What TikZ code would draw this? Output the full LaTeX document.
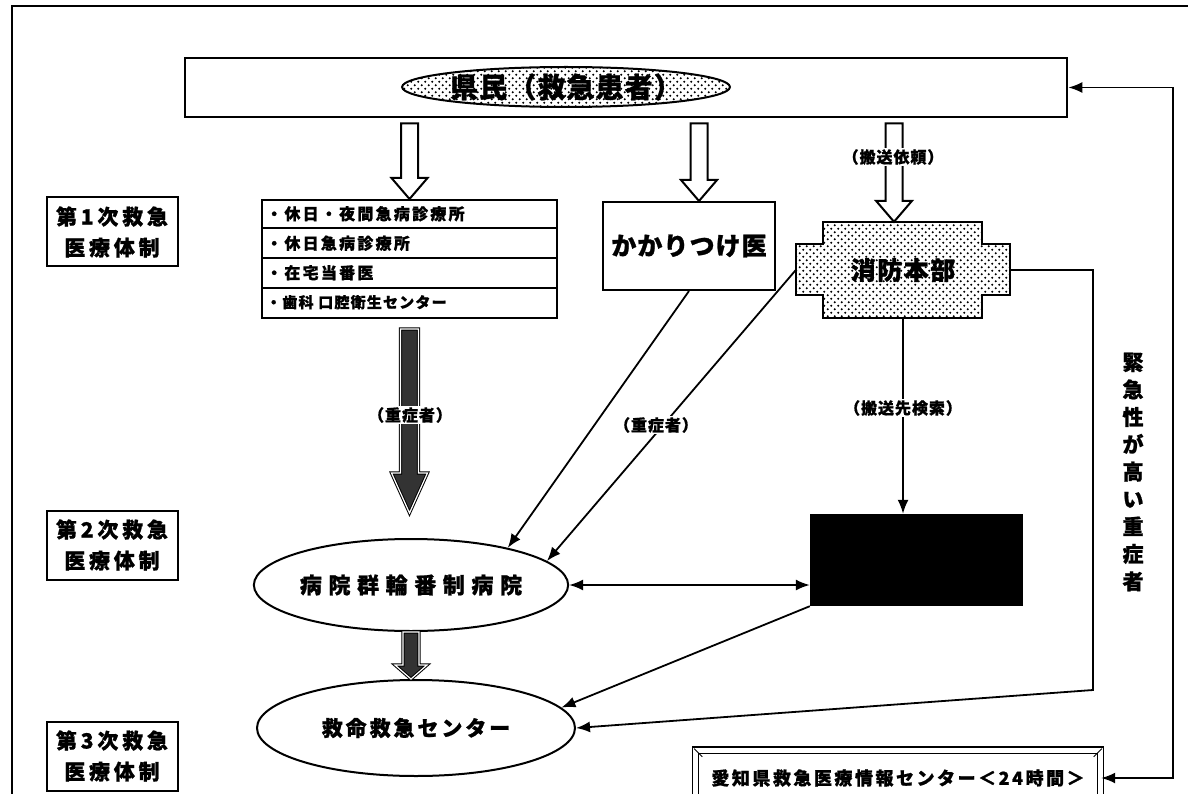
\documentclass[tikz,border=0pt]{standalone}
\usepackage{fontspec}
\setmainfont{Noto Sans CJK JP}[BoldFeatures={FakeBold=1}]
\usetikzlibrary{patterns,arrows.meta,calc,shapes.geometric}
\pgfdeclarepatternformonly{bigdots}{\pgfqpoint{-1pt}{-1pt}}{\pgfqpoint{8pt}{8pt}}{\pgfqpoint{7pt}{7pt}}{%
  \pgfpathcircle{\pgfqpoint{1.75pt}{1.75pt}}{1.15pt}%
  \pgfpathcircle{\pgfqpoint{5.25pt}{5.25pt}}{1.15pt}%
  \pgfusepath{fill}}
\newcommand\fsz[2]{\fontsize{#1}{#2}\selectfont}
\newcommand\lsp[1]{\addfontfeature{LetterSpace=#1}}
\newcommand\vblock[6]{\path[#1] let \p1=#2, \p2=#3 in
  (\x1-#4,\y1) -- (\x1+#4,\y1) -- (\x1+#4,\y2+#6) -- (\x1+#5,\y2+#6) -- (\x1,\y2)
  -- (\x1-#5,\y2+#6) -- (\x1-#4,\y2+#6) -- cycle;}
\begin{document}
\begin{tikzpicture}[x=1pt,y=-1pt,
  lvl/.style={draw,line width=2pt,minimum width=131pt,minimum height=69pt,inner sep=0pt,align=center,font=\bfseries\fsz{21}{31}\lsp{18}},
  box/.style={draw,line width=2pt,inner sep=0pt},
  item/.style={anchor=west,inner sep=0pt,font=\bfseries\fsz{16}{16}\lsp{14}},
  conn/.style={line width=1.8pt,-{Latex[length=14pt,width=11pt]}},
  both/.style={line width=1.8pt,{Latex[length=14pt,width=11pt]}-{Latex[length=14pt,width=11pt]}},
  hollow/.style={draw,line width=2pt,fill=white},
  dark/.style={draw=black,double=white,double distance=1.2pt,line width=1pt,fill=black!80},
  lbl/.style={fill=white,inner sep=1pt,font=\bfseries\fsz{16}{16}\lsp{6}},
]
\useasboundingbox (0,0) rectangle (1188,794);
% outer frame
\draw[line width=2.8pt] (12,800) -- (12,6) -- (1188,6);

% citizens
\node[box,line width=2.6pt,minimum width=882pt,minimum height=59pt] (citizen) at (626,87.5) {};
\node[draw,line width=2pt,ellipse,pattern=bigdots,minimum width=247pt,minimum height=40pt,inner sep=0pt,font=\bfseries\fsz{28}{28}\lsp{4}] (citizenE) at (566,87) {県民（救急患者）};

% level labels
\node[lvl] (lvlA) at (112,232) {第1次救急\\医療体制};
\node[lvl] (lvlB) at (112,545) {第2次救急\\医療体制};
\node[lvl] (lvlC) at (112,756) {第3次救急\\医療体制};

% list of first-level facilities
\node[box,minimum width=295pt,minimum height=118pt] (list) at (409.5,259) {};
\foreach \k in {1,2,3}
  \draw[line width=2pt] ($(list.north west)+(0,29.5*\k)$) -- ($(list.north east)+(0,29.5*\k)$);
\node[item] (it1) at ($(list.north west)+(5,14.75)$) {・休日・夜間急病診療所};
\node[item] (it2) at ($(list.north west)+(5,44.25)$) {・休日急病診療所};
\node[item] (it3) at ($(list.north west)+(5,73.75)$) {・在宅当番医};
\node[item,font=\bfseries\fsz{15}{15}\lsp{8}] (it4) at ($(list.north west)+(5,103.25)$) {・歯科 口腔衛生センター};

% family doctor
\node[box,minimum width=172pt,minimum height=88pt,font=\bfseries\fsz{25}{25}\lsp{4}] (kakari) at (689,246) {かかりつけ医};

% fire department HQ
\path[draw,line width=2pt,pattern=bigdots]
  (823,222) -- (982,222) -- (982,244) -- (1010,244) -- (1010,295) -- (982,295) -- (982,318)
  -- (823,318) -- (823,295) -- (796,295) -- (796,244) -- (823,244) -- cycle;
\node[minimum width=214pt,minimum height=96pt,inner sep=0pt,font=\bfseries\fsz{25}{25}\lsp{6}] (shobo) at (903,270) {消防本部};

% black box
\node[fill=black,minimum width=213pt,minimum height=92pt,inner sep=0pt] (ctrlbox) at (916.5,560) {};

% ellipses
\node[draw,line width=2pt,ellipse,minimum width=312pt,minimum height=92pt,inner sep=0pt,font=\bfseries\fsz{22}{22}\lsp{30}] (byoin) at (411,585) {病院群輪番制病院};
\node[draw,line width=2pt,ellipse,minimum width=318pt,minimum height=96pt,inner sep=0pt,font=\bfseries\fsz{21}{21}\lsp{14}] (kyumei) at (416,728) {救命救急センター};

% info center (double frame with bevelled corners)
\node[draw,double,double distance=5pt,line width=1.4pt,minimum width=405pt,minimum height=56pt,inner sep=0pt,font=\bfseries\fsz{18}{18}\lsp{14}] (infoc) at (898,778) {愛知県救急医療情報センター＜24時間＞};
\draw[line width=1pt] ($(infoc.north west)+(-0.7,-0.7)$) -- ($(infoc.north west)+(7.5,7.5)$);
\draw[line width=1pt] ($(infoc.north east)+(0.7,-0.7)$) -- ($(infoc.north east)+(-7.5,7.5)$);

% hollow arrows
\vblock{hollow}{($(citizen.south -| list.north)+(0,5)$)}{(list.north)}{8.5pt}{18pt}{21pt}
\vblock{hollow}{($(citizen.south -| kakari.north)+(10,5)$)}{($(kakari.north)+(10,0)$)}{8.5pt}{18pt}{21pt}
\vblock{hollow}{($(citizen.south -| shobo.north)+(-9,5)$)}{($(shobo.north)+(-9,0)$)}{8.5pt}{18pt}{21pt}
\node[lbl] (lreq) at (893,157) {（搬送依頼）};

% dark arrows
\vblock{dark}{($(list.south)+(0,10)$)}{($(byoin.north)+(0,-25)$)}{9pt}{18pt}{40pt}
\node[lbl] (lsev1) at (410,415) {（重症者）};
\vblock{dark}{(byoin.south)}{(kyumei.north)}{8pt}{16pt}{14pt}

% connectors
\draw[conn] (kakari.south) -- (byoin.21);
\draw[conn] (shobo.west) -- (byoin.10);
\node[lbl] (lsev2) at (656,425) {（重症者）};
\draw[conn] (shobo.south) -- (shobo.south |- ctrlbox.north);
\node[lbl] (lsearch) at (903,408) {（搬送先検索）};
\draw[both] (byoin.east) -- (byoin.east -| ctrlbox.west);
\draw[conn] (ctrlbox.south west) -- (kyumei.8);
\coordinate (bend) at (1093,690);
\draw[conn] (shobo.east) -| (bend) -- (kyumei.east);
\coordinate (rc) at (1173,400);
\draw[both] (citizen.east) -| (rc) |- (infoc.east);

% vertical text
\node[font=\bfseries\fsz{21}{27.4},align=center,inner sep=0pt] (vtxt) at (1133,472) {緊\\急\\性\\が\\高\\い\\重\\症\\者};
\end{tikzpicture}
\end{document}
